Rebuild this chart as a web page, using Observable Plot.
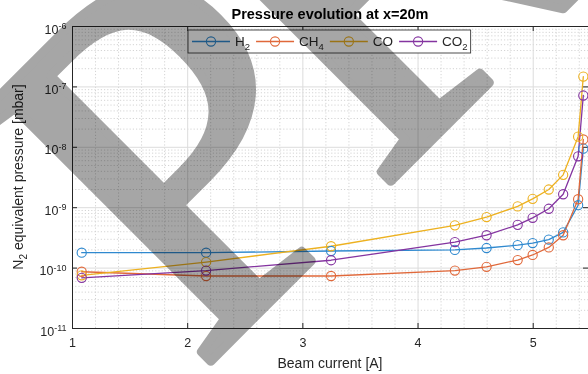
<!DOCTYPE html>
<html><head><meta charset="utf-8">
<script src="https://cdn.jsdelivr.net/npm/d3@7"></script>
<script src="https://cdn.jsdelivr.net/npm/@observablehq/plot@0.6"></script>
<style>
html,body{margin:0;padding:0;background:#fff;}
#chart{position:relative;width:588px;height:374px;overflow:hidden;}
</style></head><body><div id="chart"></div>
<script>
// ---- data ----
const beamCurrent = [1.08, 2.16, 3.245, 4.32, 4.595, 4.865, 4.995, 5.135, 5.26, 5.39, 5.435];
const h2  = [1.8e-10, 1.8e-10, 1.92e-10, 2.0e-10, 2.15e-10, 2.4e-10, 2.6e-10, 2.97e-10, 3.9e-10, 1.1e-9, 9.5e-9];
const ch4 = [8.7e-11, 7.4e-11, 7.4e-11, 9.1e-11, 1.05e-10, 1.36e-10, 1.65e-10, 2.2e-10, 3.5e-10, 1.38e-9, 1.35e-8];
const co  = [7.6e-11, 1.26e-10, 2.3e-10, 5.1e-10, 7.0e-10, 1.05e-9, 1.4e-9, 2.0e-9, 3.5e-9, 1.5e-8, 1.48e-7];
const co2 = [6.9e-11, 9.1e-11, 1.35e-10, 2.7e-10, 3.5e-10, 5.2e-10, 6.8e-10, 9.6e-10, 1.67e-9, 7.1e-9, 7.2e-8];
const seriesNames = ["H2", "CH4", "CO", "CO2"];
const seriesLabels = [["H", "2"], ["CH", "4"], ["CO", ""], ["CO", "2"]];
const seriesColors = ["#2f89cf", "#e0683a", "#edb120", "#8434a0"];
const xTicks = [1, 2, 3, 4, 5];
const yTicks = [1e-11, 1e-10, 1e-9, 1e-8, 1e-7, 1e-6];
const xMinor = d3.range(1.2, 5.48, 0.2).filter(v => Math.abs(v - Math.round(v)) > 1e-6);
const yMinor = d3.range(-11, -6).flatMap(e => d3.range(2, 10).map(m => m * Math.pow(10, e)));
const titleText = "Pressure evolution at x=20m";
const xLabelText = "Beam current [A]";
const watermarkText = "PRE";

const valuesBySeries = [h2, ch4, co, co2];
const rows = seriesNames.flatMap((s, i) => beamCurrent.map((x, j) => ({series: s, x, y: valuesBySeries[i][j]})));

const FONT = "'Liberation Sans', Arial, Helvetica, sans-serif";
const W = 588, H = 374, mL = 72, mR = 0, mT = 26, mB = 46;
const fw = W - mL - mR, fh = H - mT - mB;

const plot = Plot.plot({
  width: W, height: H,
  marginLeft: mL, marginRight: mR, marginTop: mT, marginBottom: mB,
  style: {fontFamily: FONT, background: "#fff", color: "#262626", overflow: "hidden"},
  x: {domain: [1, 5.48]},
  y: {type: "log", domain: [1e-11, 1e-6]},
  color: {domain: seriesNames, range: seriesColors},
  marks: [
    Plot.gridX(xMinor, {stroke: "#d4d4d4", strokeOpacity: 1, strokeDasharray: "1.2,2"}),
    Plot.gridY(yMinor, {stroke: "#d4d4d4", strokeOpacity: 1, strokeDasharray: "1.2,2"}),
    Plot.gridX(xTicks, {stroke: "#dcdcdc", strokeOpacity: 1}),
    Plot.gridY(yTicks, {stroke: "#dcdcdc", strokeOpacity: 1}),
    Plot.frame({stroke: "#262626", strokeWidth: 1}),
    Plot.tickX(xTicks, {x: d => d, stroke: "#262626", insetTop: fh - 5}),
    Plot.tickX(xTicks, {x: d => d, stroke: "#262626", insetBottom: fh - 5}),
    Plot.tickY(yTicks, {y: d => d, stroke: "#262626", insetRight: fw - 5}),
    Plot.tickY(yTicks, {y: d => d, stroke: "#262626", insetLeft: fw - 5}),
    Plot.axisX(xTicks, {tickSize: 0, tickPadding: 10, fontSize: 12.5, label: null, fill: "#262626",
      tickFormat: d => String(d)}),
    Plot.axisY(yTicks, {tickSize: 0, tickPadding: 6, fontSize: 12.5, label: null, dy: 3, fill: "#262626",
      tickFormat: d => "10^" + Math.round(Math.log10(d))}),
    Plot.line(rows, {x: "x", y: "y", stroke: "series", strokeWidth: 1.3}),
    Plot.dot(rows, {x: "x", y: "y", stroke: "series", r: 4.6, strokeWidth: 1.1, fill: "none"})
  ]
});
document.getElementById("chart").appendChild(plot);

const svg = d3.select(plot);
// superscripts for tick labels
svg.selectAll('g[aria-label="y-axis tick label"] text').each(function () {
  const s = this.textContent;
  const e = s.split("^")[1];
  const t = d3.select(this);
  t.text("10");
  t.append("tspan").attr("dy", "-0.5em").attr("font-size", "0.72em").text(e);
});

// title
svg.append("text").attr("x", mL + fw / 2).attr("y", 19).attr("text-anchor", "middle")
  .attr("font-family", FONT).attr("font-size", 14.5).attr("font-weight", "bold").attr("fill", "#000")
  .text(titleText);
// x label
svg.append("text").attr("x", mL + fw / 2).attr("y", 368).attr("text-anchor", "middle")
  .attr("font-family", FONT).attr("font-size", 14).attr("fill", "#262626").text(xLabelText);
// y label
const yl = svg.append("text").attr("transform", `translate(23,${mT + fh / 2}) rotate(-90)`)
  .attr("text-anchor", "middle").attr("font-family", FONT).attr("font-size", 14).attr("fill", "#262626");
yl.append("tspan").text("N");
yl.append("tspan").attr("font-size", 10).attr("dy", 4).text("2");
yl.append("tspan").attr("dy", -4).text(" equivalent pressure [mbar]");

// legend
const leg = svg.append("g").attr("font-family", FONT).attr("font-size", 13.5).attr("text-anchor", "start");
const box = leg.append("rect").attr("fill", "#fff").attr("stroke", "#3a3a3a").attr("stroke-width", 0.9);
const ly = 41.5;
let xp = 192;
seriesNames.forEach((s, i) => {
  leg.append("line").attr("x1", xp).attr("x2", xp + 38).attr("y1", ly).attr("y2", ly)
    .attr("stroke", seriesColors[i]).attr("stroke-width", 1.3);
  leg.append("circle").attr("cx", xp + 19).attr("cy", ly).attr("r", 4.6)
    .attr("fill", "none").attr("stroke", seriesColors[i]).attr("stroke-width", 1.1);
  const t = leg.append("text").attr("x", xp + 43).attr("y", ly + 4.5).attr("fill", "#262626");
  t.append("tspan").text(seriesLabels[i][0]);
  if (seriesLabels[i][1]) t.append("tspan").attr("font-size", 9.5).attr("dy", 4).text(seriesLabels[i][1]);
  const w = t.node().getBBox().width;
  xp = xp + 43 + w + 6;
});
box.attr("x", 188).attr("y", 30).attr("width", xp - 6 + 3 - 188).attr("height", 23);

// watermark (multiply overlay)
svg.append("text").attr("transform", "translate(198,374) rotate(-45)")
  .attr("text-anchor", "start").attr("letter-spacing", -32)
  .attr("font-family", "'Liberation Serif', 'DejaVu Serif', serif").attr("font-size", 515)
  .attr("fill", "#a6a6a6").attr("stroke", "#a6a6a6").attr("stroke-width", 9).attr("stroke-linejoin", "round")
  .style("mix-blend-mode", "multiply").text(watermarkText);
</script></body></html>
